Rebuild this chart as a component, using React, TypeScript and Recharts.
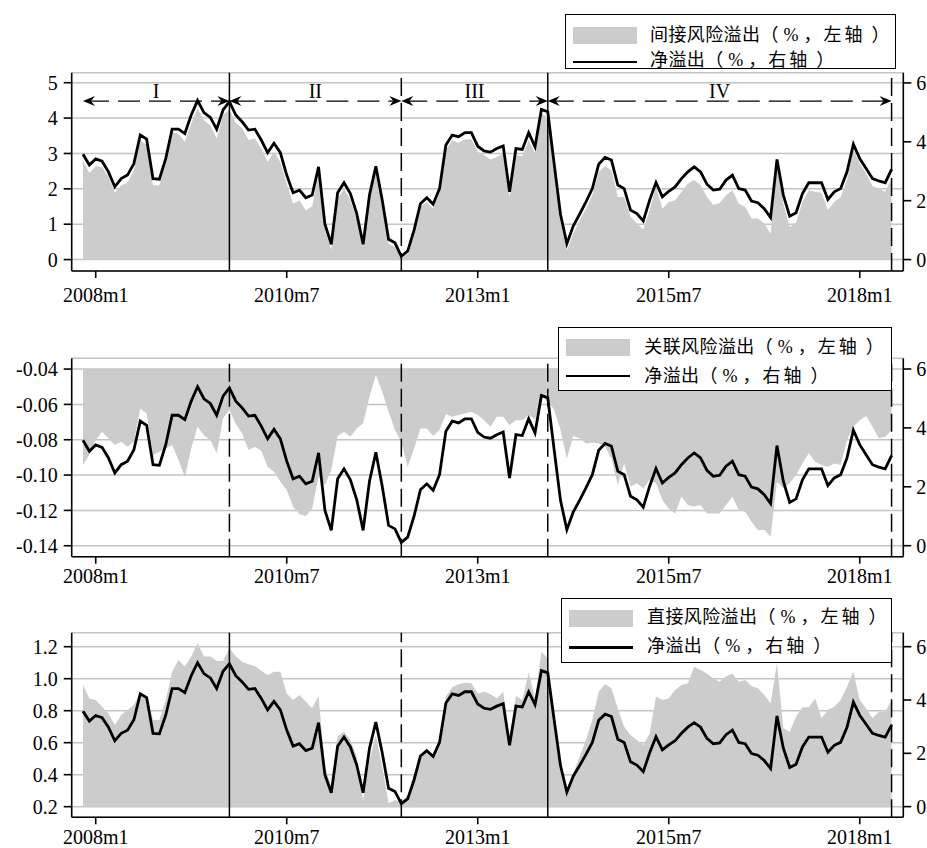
import React from 'react';
import { ComposedChart, Area, Line, XAxis, YAxis, CartesianGrid, ReferenceLine } from 'recharts';

// monthly series, 2007m11 .. 2018m6
const START_YEAR = 2007;
const START_MONTH = 11;

// net spillover (%), right axis – shared by all three panels
const netSpillover = [
  3.58, 3.21, // 2007
  3.42, 3.34, 2.98, 2.47, 2.75, 2.87, 3.26, 4.23, 4.09, 2.75, 2.73, 3.43, // 2008
  4.43, 4.43, 4.28, 4.91, 5.40, 4.99, 4.83, 4.43, 5.08, 5.36, 4.91, 4.68, // 2009
  4.40, 4.43, 4.06, 3.63, 3.95, 3.63, 2.87, 2.27, 2.36, 2.10, 2.19, 3.15, // 2010
  1.20, 0.52, 2.27, 2.61, 2.24, 1.56, 0.52, 2.19, 3.17, 2.02, 0.69, 0.57, // 2011
  0.11, 0.29, 1.00, 1.90, 2.10, 1.88, 2.41, 3.89, 4.23, 4.17, 4.31, 4.31, // 2012
  3.85, 3.69, 3.65, 3.77, 3.86, 2.30, 3.77, 3.74, 4.31, 3.83, 5.10, 5.02, // 2013
  3.26, 1.54, 0.54, 1.14, 1.54, 1.96, 2.41, 3.24, 3.47, 3.38, 2.53, 2.41, // 2014
  1.68, 1.56, 1.31, 2.02, 2.62, 2.13, 2.32, 2.47, 2.75, 2.98, 3.15, 2.98, // 2015
  2.56, 2.36, 2.39, 2.70, 2.87, 2.41, 2.36, 1.99, 1.93, 1.73, 1.43, 3.40, // 2016
  2.19, 1.47, 1.59, 2.24, 2.61, 2.61, 2.61, 2.04, 2.30, 2.41, 2.98, 3.92, // 2017
  3.43, 3.09, 2.75, 2.67, 2.61, 3.06, // 2018
];

// indirect risk spillover (%), left axis of panel 1
const indirectSpillover = [
  2.80, 2.45,
  2.64, 2.62, 2.34, 1.89, 2.10, 2.17, 2.53, 3.38, 3.23, 2.10, 2.10, 2.72,
  3.61, 3.55, 3.33, 3.85, 4.27, 3.94, 3.80, 3.42, 4.08, 4.24, 3.87, 3.71,
  3.38, 3.42, 3.14, 2.76, 3.05, 2.76, 2.15, 1.58, 1.68, 1.39, 1.51, 2.43,
  0.83, 0.28, 1.72, 2.00, 1.68, 1.16, 0.36, 1.68, 2.48, 1.54, 0.45, 0.36,
  0.03, 0.17, 0.73, 1.49, 1.63, 1.44, 1.87, 3.09, 3.38, 3.30, 3.40, 3.40,
  3.05, 2.95, 2.83, 2.90, 3.00, 1.77, 2.95, 2.92, 3.38, 3.00, 4.13, 4.02,
  2.53, 1.11, 0.26, 0.73, 1.11, 1.44, 1.82, 2.48, 2.64, 2.53, 1.77, 1.77,
  1.21, 1.02, 0.85, 1.40, 2.07, 1.44, 1.63, 1.68, 1.91, 2.15, 2.25, 2.10,
  1.77, 1.54, 1.60, 1.82, 1.96, 1.58, 1.49, 1.16, 1.16, 1.02, 0.73, 2.70,
  1.58, 0.92, 1.04, 1.63, 1.96, 1.92, 1.89, 1.40, 1.63, 1.77, 2.25, 3.11,
  2.72, 2.43, 2.07, 2.01, 1.92, 2.29,
];

// linked risk spillover (%), left axis of panel 2 (hangs down from -0.04)
const linkedSpillover = [
  -0.0943, -0.0887,
  -0.0802, -0.0755, -0.0792, -0.0830, -0.0811, -0.0840, -0.0811, -0.0623, -0.0651, -0.0887, -0.0868, -0.0849,
  -0.0830, -0.0915, -0.1009, -0.0849, -0.0726, -0.0774, -0.0802, -0.0877, -0.0679, -0.0632, -0.0711, -0.0764,
  -0.0858, -0.0840, -0.0862, -0.0953, -0.0981, -0.1038, -0.1085, -0.1179, -0.1222, -0.1232, -0.1189, -0.1009,
  -0.1056, -0.0972, -0.0779, -0.0755, -0.0783, -0.0736, -0.0707, -0.0557, -0.0434, -0.0528, -0.0641, -0.0745,
  -0.0811, -0.0953, -0.0849, -0.0736, -0.0736, -0.0779, -0.0745, -0.0655, -0.0670, -0.0660, -0.0651, -0.0641,
  -0.0660, -0.0689, -0.0726, -0.0670, -0.0670, -0.0717, -0.0689, -0.0689, -0.0660, -0.0685, -0.0557, -0.0576,
  -0.0632, -0.0745, -0.0906, -0.0779, -0.0792, -0.0821, -0.0817, -0.0821, -0.0840, -0.0906, -0.1056, -0.0934,
  -0.1066, -0.1047, -0.1075, -0.1028, -0.1047, -0.1141, -0.1189, -0.1217, -0.1123, -0.1170, -0.1179, -0.1170,
  -0.1217, -0.1217, -0.1217, -0.1170, -0.1123, -0.1198, -0.1207, -0.1264, -0.1311, -0.1311, -0.1349, -0.1038,
  -0.1075, -0.1047, -0.1000, -0.0934, -0.0877, -0.0924, -0.0943, -0.0953, -0.0934, -0.0943, -0.0802, -0.0726,
  -0.0689, -0.0666, -0.0726, -0.0792, -0.0783, -0.0745,
];

// direct risk spillover (%), left axis of panel 3
const directSpillover = [
  0.960, 0.877,
  0.867, 0.825, 0.783, 0.710, 0.773, 0.804, 0.835, 0.919, 0.888, 0.742, 0.742, 0.867,
  1.044, 1.117, 1.075, 1.138, 1.221, 1.138, 1.138, 1.110, 1.110, 1.190, 1.138, 1.106,
  1.090, 1.079, 1.050, 1.023, 1.044, 1.044, 0.908, 0.867, 0.898, 0.856, 0.815, 0.892,
  0.450, 0.325, 0.638, 0.669, 0.617, 0.513, 0.242, 0.492, 0.648, 0.450, 0.221, 0.242,
  0.231, 0.273, 0.408, 0.513, 0.554, 0.523, 0.617, 0.888, 0.946, 0.965, 0.975, 0.971,
  0.908, 0.919, 0.904, 0.877, 0.919, 0.630, 0.892, 0.867, 1.038, 0.877, 1.169, 1.127,
  0.783, 0.471, 0.283, 0.408, 0.513, 0.617, 0.742, 0.919, 0.967, 0.940, 0.815, 0.700,
  0.648, 0.617, 0.585, 0.658, 0.888, 0.867, 0.877, 0.929, 0.960, 0.971, 1.075, 1.054,
  1.033, 1.002, 0.981, 1.013, 1.033, 0.981, 0.992, 0.954, 0.940, 0.898, 0.846, 1.096,
  0.690, 0.669, 0.763, 0.821, 0.821, 0.877, 0.752, 0.804, 0.825, 0.867, 0.950, 1.044,
  0.867, 0.815, 0.752, 0.794, 0.794, 0.867,
];

// x ticks are months counted from 2008m1
const xTicks = [0, 30, 60, 90, 120];
const xTickLabels = ['2008m1', '2010m7', '2013m1', '2015m7', '2018m1'];

// phase boundaries (months from 2008m1) and their names
const phaseBounds = [-2, 21, 48, 71, 125];
const phaseNames = ['I', 'II', 'III', 'IV'];

const rightTicks = [0, 2, 4, 6];

const firstIndex = (START_YEAR - 2008) * 12 + (START_MONTH - 1);
const rows = netSpillover.map((net, i) => ({
  m: firstIndex + i,
  net,
  indirect: indirectSpillover[i],
  linked: linkedSpillover[i],
  direct: directSpillover[i],
}));

const SERIF = '"Liberation Serif", "Times New Roman", serif';
const LEGEND_FONT = '"Liberation Serif", "Noto Sans CJK SC", serif';
const X_DOMAIN: [number, number] = [-3.77, 126.84];
const GREY = '#cccccc';

const tickStyle = { fill: '#000', fontSize: 20, fontFamily: SERIF };

function phaseArrow(label: string) {
  return (p: any) => {
    const { x1, y1, x2 } = p;
    const len = 12;
    const half = 5;
    const notch = 8;
    const left = `${x1},${y1} ${x1 + len},${y1 - half} ${x1 + notch},${y1} ${x1 + len},${y1 + half}`;
    const right = `${x2},${y1} ${x2 - len},${y1 - half} ${x2 - notch},${y1} ${x2 - len},${y1 + half}`;
    return (
      <g>
        <line x1={x1 + 4} y1={y1} x2={x2 - 4} y2={y1} stroke="#000" strokeWidth={1.4} strokeDasharray="22 9" />
        <polygon points={left} fill="#000" />
        <polygon points={right} fill="#000" />
        <text x={(x1 + x2) / 2} y={y1 - 3} textAnchor="middle" fontSize={20} fontFamily={SERIF} fill="#000">
          {label}
        </text>
      </g>
    );
  };
}

// "（%，左轴）" with the wide spacing of the printed key
function AxisNote({ side }: { side: string }) {
  return (
    <>
      <span style={{ letterSpacing: 5 }}>（</span>
      <span style={{ letterSpacing: 5 }}>%</span>
      <span style={{ letterSpacing: 2 }}>，</span>
      <span style={{ letterSpacing: 3 }}>{side}</span>
      <span style={{ letterSpacing: 9 }}>轴</span>
      <span>）</span>
    </>
  );
}

type LegendBox = {
  left: number; top: number; width: number; height: number;
  swatchY: number; lineY: number; row1: number; row2: number; textX: number;
};

function KeyBox({ box, name }: { box: LegendBox; name: string }) {
  const rowStyle = (cy: number): React.CSSProperties => ({
    position: 'absolute', left: box.textX - box.left, top: cy - box.top - 13,
    height: 26, lineHeight: '26px', fontSize: 18, fontFamily: LEGEND_FONT, whiteSpace: 'nowrap', color: '#000',
  });
  return (
    <div style={{
      position: 'absolute', left: box.left, top: box.top, width: box.width, height: box.height,
      boxSizing: 'border-box', border: '1.4px solid #000', background: '#fff',
    }}>
      <div style={{ position: 'absolute', left: 7, top: box.swatchY - box.top, width: 64, height: 17, background: GREY }} />
      <div style={{ position: 'absolute', left: 7, top: box.lineY - box.top - 1.3, width: 64, height: 2.6, background: '#000' }} />
      <div style={rowStyle(box.row1)}>
        <span style={{ letterSpacing: 0.4 }}>{name}</span>
        <AxisNote side="左" />
      </div>
      <div style={rowStyle(box.row2)}>
        <span style={{ letterSpacing: 0.4 }}>净溢出</span>
        <AxisNote side="右" />
      </div>
    </div>
  );
}

type Panel = {
  dataKey: 'indirect' | 'linked' | 'direct';
  name: string;
  top: number; height: number; marginTop: number; xAxisHeight: number; tickMargin: number;
  leftDomain: [number, number]; leftTicks: number[]; digits: number; base: number;
  rightDomain: [number, number];
  solidBreaks: number[];
  arrows: boolean;
  legend: LegendBox;
};

const panels: Panel[] = [
  {
    dataKey: 'indirect', name: '间接风险溢出',
    top: 0, height: 305, marginTop: 72.7, xAxisHeight: 34, tickMargin: 9.5,
    leftDomain: [-0.323, 5.283], leftTicks: [0, 1, 2, 3, 4, 5], digits: 0, base: 0,
    rightDomain: [-0.388, 6.347], solidBreaks: [21, 71], arrows: true,
    legend: { left: 565, top: 14, width: 331, height: 55, swatchY: 26, lineY: 61, row1: 34, row2: 59, textX: 649 },
  },
  {
    dataKey: 'linked', name: '关联风险溢出',
    top: 305, height: 285.7, marginTop: 53.3, xAxisHeight: 34, tickMargin: 5.5,
    leftDomain: [-0.1462, -0.0339], leftTicks: [-0.14, -0.12, -0.1, -0.08, -0.06, -0.04], digits: 2, base: -0.04,
    rightDomain: [-0.374, 6.364], solidBreaks: [], arrows: false,
    legend: { left: 558.3, top: 326.7, width: 333.4, height: 64.3, swatchY: 338, lineY: 375, row1: 346, row2: 375, textX: 643.3 },
  },
  {
    dataKey: 'direct', name: '直接风险溢出',
    top: 590, height: 257.3, marginTop: 42.7, xAxisHeight: 30, tickMargin: 5.5,
    leftDomain: [0.1337, 1.2875], leftTicks: [0.2, 0.4, 0.6, 0.8, 1.0, 1.2], digits: 1, base: 0.2,
    rightDomain: [-0.4, 6.525], solidBreaks: [21, 71], arrows: false,
    legend: { left: 560.5, top: 598.3, width: 331.2, height: 64.4, swatchY: 609, lineY: 646.7, row1: 616, row2: 645, textX: 646 },
  },
];

function SpilloverPanel({ p }: { p: Panel }) {
  const breaks = phaseBounds.slice(1);
  return (
    <div style={{ position: 'absolute', left: 0, top: p.top, width: 927, height: p.height }}>
      <ComposedChart width={927} height={p.height} data={rows} margin={{ top: p.marginTop, right: 0, bottom: 0, left: 0 }}>
        <CartesianGrid vertical={false} stroke="#c4c4c4" strokeWidth={1.5} />
        <XAxis
          type="number" dataKey="m" domain={X_DOMAIN} allowDataOverflow ticks={xTicks} interval={0}
          tickFormatter={(v: number) => xTickLabels[xTicks.indexOf(v)] ?? ''}
          height={p.xAxisHeight} tickSize={7} tickMargin={p.tickMargin}
          stroke="#000" strokeWidth={1.6} tick={tickStyle}
        />
        <XAxis
          xAxisId="top" orientation="top" type="number" dataKey="m" domain={X_DOMAIN} allowDataOverflow
          height={0} tick={false} tickLine={false} stroke="#000" strokeWidth={1.6}
        />
        <YAxis
          type="number" domain={p.leftDomain} allowDataOverflow ticks={p.leftTicks} interval={0}
          tickFormatter={(v: number) => v.toFixed(p.digits)}
          width={71.7} tickSize={8} tickMargin={6} stroke="#000" strokeWidth={1.6} tick={tickStyle}
        />
        <YAxis
          yAxisId="r" orientation="right" type="number" domain={p.rightDomain} allowDataOverflow
          ticks={rightTicks} interval={0}
          width={23.7} tickSize={8} tickMargin={5} stroke="#000" strokeWidth={1.6} tick={tickStyle}
        />
        <Area
          type="linear" dataKey={p.dataKey} baseValue={p.base} fill={GREY} fillOpacity={1}
          stroke="none" isAnimationActive={false}
        />
        {breaks.map((b) => (
          <ReferenceLine
            key={b} x={b} stroke="#000" strokeWidth={1.5}
            strokeDasharray={p.solidBreaks.includes(b) ? undefined : '18 7'}
          />
        ))}
        {p.arrows && phaseNames.map((name, i) => (
          <ReferenceLine
            key={name}
            segment={[{ x: phaseBounds[i], y: 4.48 }, { x: phaseBounds[i + 1], y: 4.48 }]}
            shape={phaseArrow(name)}
          />
        ))}
        <Line
          yAxisId="r" type="linear" dataKey="net" stroke="#000" strokeWidth={2.8}
          dot={false} activeDot={false} isAnimationActive={false}
        />
      </ComposedChart>
      <div style={{ position: 'absolute', left: 0, top: -p.top }}>
        <KeyBox box={p.legend} name={p.name} />
      </div>
    </div>
  );
}

export default function App() {
  return (
    <div style={{ position: 'absolute', left: 0, top: 0, width: 927, height: 848, background: '#fff', overflow: 'hidden' }}>
      {panels.map((p) => (
        <SpilloverPanel key={p.dataKey} p={p} />
      ))}
    </div>
  );
}
